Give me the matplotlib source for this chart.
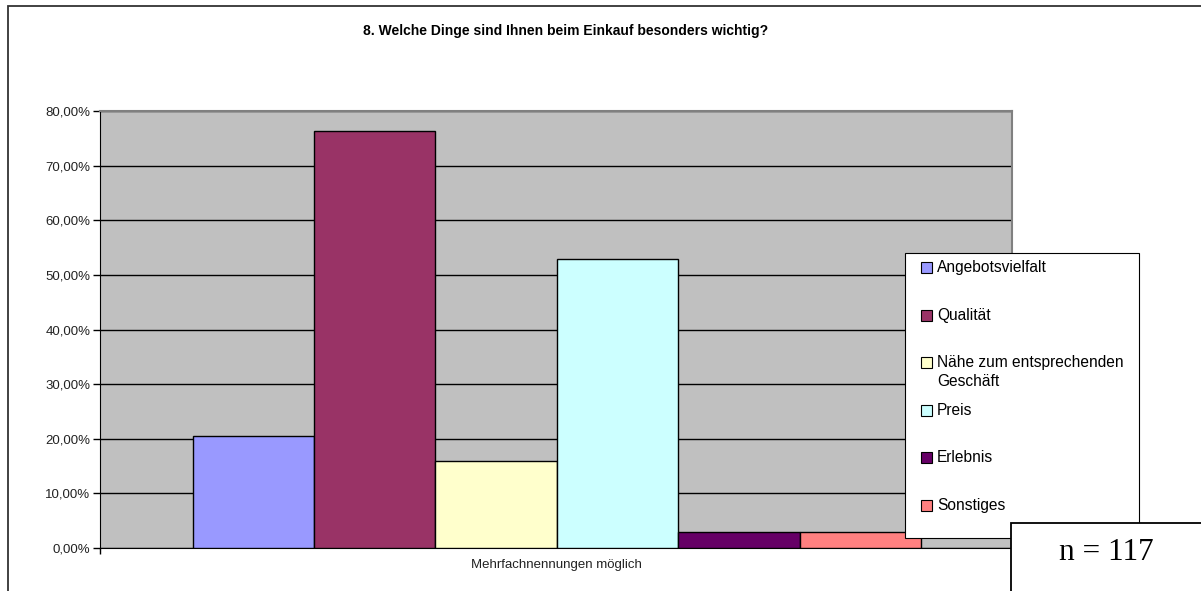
import matplotlib.pyplot as plt
from matplotlib.patches import Rectangle

plt.rcParams['font.family'] = ['Liberation Sans', 'DejaVu Sans']

categories = ['Angebotsvielfalt', 'Qualität', 'Nähe zum entsprechenden\nGeschäft',
              'Preis', 'Erlebnis', 'Sonstiges']
values = [20.5, 76.4, 16.0, 52.9, 2.9, 2.9]
colors = ['#9999FF', '#993366', '#FFFFCC', '#CCFFFF', '#660066', '#FF8080']
yticks = [0, 10, 20, 30, 40, 50, 60, 70, 80]
ytick_labels = ['0,00%', '10,00%', '20,00%', '30,00%', '40,00%', '50,00%',
                '60,00%', '70,00%', '80,00%']
title = '8. Welche Dinge sind Ihnen beim Einkauf besonders wichtig?'
xlabel = 'Mehrfachnennungen möglich'
note = 'n = 117'

W, H = 1201, 591
fig = plt.figure(figsize=(W / 100, H / 100), dpi=100)


def fx(x):
    return x / W


def fy(y):
    return 1 - y / H


# outer chart frame
fig.add_artist(Rectangle((fx(8), fy(640)), fx(1300), 640 / H - 6 / H,
                         transform=fig.transFigure, facecolor='none',
                         edgecolor='#333333', lw=1.3, zorder=0.5))

ax = fig.add_axes([fx(100), fy(548), fx(1012 - 100), (548 - 111) / H])
ax.set_facecolor('#C0C0C0')
ax.set_zorder(1)

for i, (v, c) in enumerate(zip(values, colors)):
    ax.bar(i, v, width=1, align='edge', color=c, edgecolor='black', lw=1, zorder=3)

ax.set_ylim(0, 80)
ax.set_xlim(-0.764, 6.75)
ax.set_yticks(yticks)
ax.set_yticklabels(ytick_labels, fontsize=9.5, color='#222222')
ax.yaxis.grid(True, color='black', lw=1)
ax.set_axisbelow(True)
ax.tick_params(axis='y', length=5, width=1, pad=2)
ax.set_xticks([-0.764, 6.75])
ax.set_xticklabels(['', ''])
ax.tick_params(axis='x', length=4, width=1)
ax.spines['left'].set_color('black')
ax.spines['bottom'].set_color('black')
ax.spines['top'].set_color('#808080')
ax.spines['right'].set_color('#808080')
ax.spines['top'].set_linewidth(1.5)
ax.spines['right'].set_linewidth(1.5)

fig.text(fx(556), fy(565), xlabel, ha='center', va='center', fontsize=9.5, color='#222222')
fig.text(fx(566), fy(31), title, ha='center', va='center', fontsize=10,
         fontweight='bold', color='black')

# legend box
fig.add_artist(Rectangle((fx(905), fy(538)), fx(1139 - 905), (538 - 253) / H,
                         transform=fig.transFigure, facecolor='white',
                         edgecolor='black', lw=0.8, zorder=5))
for k, (lab, c) in enumerate(zip(categories, colors)):
    yc = 267.7 + k * 47.5
    fig.add_artist(Rectangle((fx(921), fy(yc + 5.5)), fx(11), 11 / H,
                             transform=fig.transFigure, facecolor=c,
                             edgecolor='black', lw=0.8, zorder=6))
    fig.text(fx(937), fy(yc - 7.5), lab, ha='left', va='top', fontsize=11.2,
             color='black', linespacing=1.3, zorder=6)

# n box
fig.add_artist(Rectangle((fx(1011), fy(640)), fx(400), (640 - 523) / H,
                         transform=fig.transFigure, facecolor='white',
                         edgecolor='black', lw=1.3, zorder=7))
fig.text(fx(1106), fy(553), note, ha='center', va='center', fontsize=22.5,
         family='Liberation Serif', zorder=8)

fig.savefig('out.png', dpi=100)
